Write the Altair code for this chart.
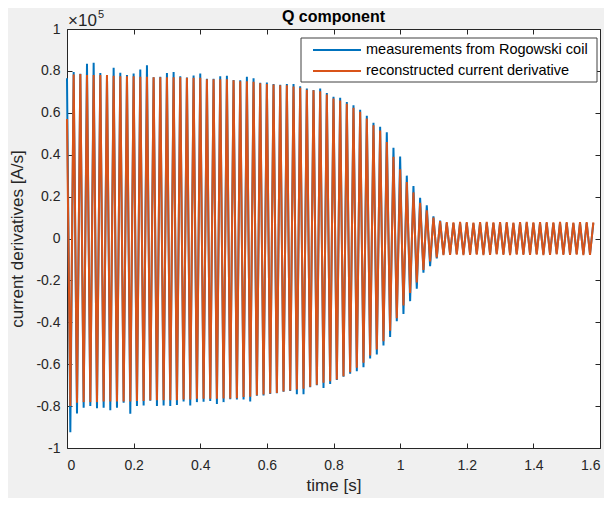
import altair as alt
import pandas as pd

SERIES = ["measurements from Rogowski coil", "reconstructed current derivative"]
COLORS = ["#0072BD", "#D95319"]
TITLE = "Q component"

PERIOD = 0.02  # s (50 Hz); positive peaks at k*PERIOD, negative peaks half a period later

# peak values, in units of 1e5 A/s
rec_pos = [0.57, 0.783, 0.785, 0.780, 0.780, 0.780, 0.780, 0.777, 0.775, 0.775,
           0.775, 0.772, 0.772, 0.770, 0.770, 0.770, 0.770, 0.770, 0.767, 0.767,
           0.767, 0.760, 0.760, 0.760, 0.760, 0.755, 0.751, 0.751, 0.748, 0.741,
           0.737, 0.735, 0.732, 0.732, 0.726, 0.719, 0.710, 0.707, 0.703, 0.687,
           0.668, 0.659, 0.643, 0.624, 0.605, 0.573, 0.541, 0.516, 0.460, 0.390,
           0.330, 0.270, 0.220, 0.170, 0.135, 0.100, 0.083, 0.078, 0.077, 0.079,
           0.078, 0.076, 0.078, 0.079, 0.077, 0.078, 0.078, 0.076, 0.078, 0.079,
           0.077, 0.078, 0.078, 0.077, 0.079, 0.078, 0.076, 0.078, 0.078, 0.077]
rec_neg = [-0.800, -0.784, -0.781, -0.781, -0.781, -0.778, -0.778, -0.778, -0.778, -0.778,
           -0.776, -0.776, -0.772, -0.772, -0.772, -0.772, -0.772, -0.769, -0.769, -0.765,
           -0.765, -0.765, -0.765, -0.764, -0.764, -0.763, -0.756, -0.755, -0.748, -0.745,
           -0.740, -0.737, -0.730, -0.726, -0.721, -0.717, -0.708, -0.698, -0.689, -0.681,
           -0.673, -0.657, -0.638, -0.617, -0.593, -0.558, -0.530, -0.490, -0.440, -0.380,
           -0.320, -0.260, -0.210, -0.150, -0.110, -0.090, -0.079, -0.078, -0.077, -0.079,
           -0.078, -0.077, -0.079, -0.078, -0.076, -0.078, -0.079, -0.077, -0.078, -0.078,
           -0.077, -0.079, -0.078, -0.076, -0.078, -0.078, -0.077, -0.079, -0.078]
meas_pos = [0.765, 0.795, 0.786, 0.834, 0.839, 0.790, 0.780, 0.815, 0.791, 0.780,
            0.788, 0.807, 0.827, 0.770, 0.772, 0.790, 0.795, 0.775, 0.768, 0.778,
            0.788, 0.762, 0.762, 0.775, 0.777, 0.757, 0.755, 0.772, 0.765, 0.743,
            0.745, 0.737, 0.734, 0.737, 0.737, 0.727, 0.716, 0.709, 0.716, 0.695,
            0.677, 0.672, 0.652, 0.636, 0.614, 0.586, 0.552, 0.533, 0.507, 0.433,
            0.391, 0.300, 0.250, 0.194, 0.158, 0.106, 0.085, 0.074, 0.073, 0.075,
            0.074, 0.072, 0.074, 0.075, 0.073, 0.074, 0.074, 0.072, 0.074, 0.075,
            0.073, 0.074, 0.074, 0.073, 0.075, 0.074, 0.072, 0.074, 0.074, 0.073]
meas_neg = [-0.925, -0.835, -0.808, -0.800, -0.810, -0.808, -0.820, -0.808, -0.784, -0.837,
            -0.800, -0.797, -0.774, -0.800, -0.797, -0.800, -0.795, -0.778, -0.797, -0.781,
            -0.779, -0.776, -0.790, -0.781, -0.767, -0.769, -0.768, -0.778, -0.750, -0.749,
            -0.742, -0.739, -0.732, -0.728, -0.743, -0.743, -0.710, -0.700, -0.713, -0.694,
            -0.675, -0.660, -0.646, -0.633, -0.614, -0.573, -0.554, -0.511, -0.470, -0.395,
            -0.360, -0.299, -0.240, -0.163, -0.132, -0.095, -0.076, -0.075, -0.074, -0.075,
            -0.074, -0.073, -0.075, -0.074, -0.072, -0.074, -0.075, -0.073, -0.074, -0.074,
            -0.073, -0.075, -0.074, -0.072, -0.074, -0.074, -0.073, -0.075, -0.074]

x_ticks = [0, 0.2, 0.4, 0.6, 0.8, 1.0, 1.2, 1.4, 1.6]
y_ticks = [-1, -0.8, -0.6, -0.4, -0.2, 0, 0.2, 0.4, 0.6, 0.8, 1]


def build(series, pos, neg):
    rows = []
    for k, v in enumerate(pos):
        rows.append({"t": round(k * PERIOD, 3), "v": v, "series": series})
    for k, v in enumerate(neg):
        rows.append({"t": round(k * PERIOD + PERIOD / 2, 3), "v": v, "series": series})
    return pd.DataFrame(rows).sort_values("t")


df_meas = build(SERIES[0], meas_pos, meas_neg)
df_rec = build(SERIES[1], rec_pos, rec_neg)

FONT = "Liberation Sans"
TXT = "#262626"
LBL = "toString(round(datum.value*10)/10)"

W, H = 533, 419

xscale = alt.Scale(domain=[0, 1.6], nice=False, zero=False)
yscale = alt.Scale(domain=[-1, 1], nice=False, zero=False)
color = alt.Color("series:N", scale=alt.Scale(domain=SERIES, range=COLORS), legend=None)

blue = alt.Chart(df_meas).mark_line(strokeWidth=2).encode(
    x=alt.X("t:Q", scale=xscale, axis=alt.Axis(
        orient="bottom", values=x_ticks, offset=-5, tickSize=5, domain=False, grid=False,
        tickColor=TXT, labelExpr=LBL, labelFont=FONT, labelFontSize=14, labelColor=TXT,
        labelPadding=10, title="time [s]", titleFont=FONT, titleFontSize=17,
        titleFontWeight="normal", titleColor=TXT, titlePadding=5)),
    y=alt.Y("v:Q", scale=yscale, axis=alt.Axis(
        orient="left", values=y_ticks, offset=-5, tickSize=5, domain=False, grid=False,
        tickColor=TXT, labelExpr=LBL, labelFont=FONT, labelFontSize=14, labelColor=TXT,
        labelPadding=7, title="current derivatives [A/s]", titleFont=FONT, titleFontSize=17,
        titleFontWeight="normal", titleColor=TXT, titlePadding=9)),
    color=color,
    order="t:Q",
)

orange = alt.Chart(df_rec).mark_line(strokeWidth=2).encode(
    x=alt.X("t:Q", scale=xscale, axis=alt.Axis(
        orient="top", values=x_ticks, offset=-5, tickSize=5, domain=False, grid=False,
        tickColor=TXT, labels=False, title=None)),
    y=alt.Y("v:Q", scale=yscale, axis=alt.Axis(
        orient="right", values=y_ticks, offset=-5, tickSize=5, domain=False, grid=False,
        tickColor=TXT, labels=False, title=None)),
    color=color,
    order="t:Q",
)


def label(text, x, y, size, weight="normal", align="left", col=TXT, baseline="alphabetic"):
    return alt.Chart(pd.DataFrame({"s": [text]})).mark_text(
        align=align, baseline=baseline, font=FONT, fontSize=size, fontWeight=weight, color=col
    ).encode(text="s:N", x=alt.value(x), y=alt.value(y))


title = label(TITLE, W / 2, -7, 16, weight="bold", align="center", col="#000000")
exp_base = label("×10", 1, -3, 17)
exp_pow = label("5", 31, -11, 11)

# legend box (MATLAB style, inside the axes, top-right)
leg_box = alt.Chart(pd.DataFrame({"a": [0]})).mark_rect(
    fill="white", stroke="#404040", strokeWidth=1
).encode(x=alt.value(234), x2=alt.value(530), y=alt.value(9), y2=alt.value(53))
leg_items = []
for i, (name, col) in enumerate(zip(SERIES, COLORS)):
    yy = 21 + 21 * i
    leg_items.append(
        alt.Chart(pd.DataFrame({"a": [0]})).mark_rule(color=col, strokeWidth=2).encode(
            x=alt.value(246), x2=alt.value(294), y=alt.value(yy), y2=alt.value(yy))
    )
    leg_items.append(label(name, 299, yy, 14.5, col="#000000", baseline="middle"))

chart = alt.layer(blue, orange, exp_base, exp_pow, title, leg_box, *leg_items).resolve_axis(
    x="independent", y="independent"
).properties(
    width=W, height=H,
    padding={"left": 59, "top": 21, "right": 4, "bottom": 50},
    autosize=alt.AutoSizeParams(type="none"),
    background="#f0f0f0",
).configure_view(stroke=TXT, strokeWidth=1, fill="white")

chart.save("out.html", embed_options={"renderer": "svg", "actions": False})
